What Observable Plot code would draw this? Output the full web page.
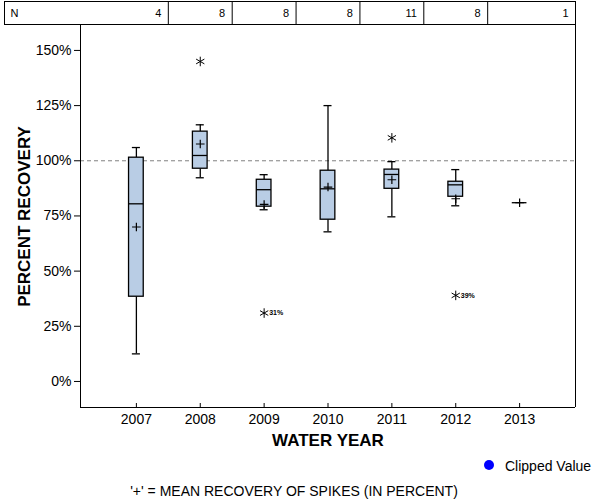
<!DOCTYPE html>
<html>
<head>
<meta charset="utf-8">
<script src="https://cdn.jsdelivr.net/npm/d3@7"></script>
<script src="https://cdn.jsdelivr.net/npm/@observablehq/plot@0.6"></script>
<style>
  html, body { margin: 0; padding: 0; background: #fff; }
  #page { position: relative; width: 600px; height: 500px; overflow: hidden;
          font-family: "Liberation Sans", Arial, Helvetica, sans-serif; color: #000; background: #fff; }
  #page svg { position: absolute; left: 0; display: block; }
  .legend-dot { position: absolute; left: 484px; top: 460px; width: 10px; height: 10px;
                border-radius: 50%; background: #0000ff; }
  .legend-text { position: absolute; left: 505px; top: 458px; font-size: 14px; line-height: 16px; white-space: nowrap; }
  .footnote { position: absolute; left: 0; top: 483px; width: 588px; text-align: center;
              font-size: 14px; line-height: 16px; white-space: nowrap; }
</style>
</head>
<body>
<div id="page"></div>
<script>
// ---- data ----
const years        = [2007, 2008, 2009, 2010, 2011, 2012, 2013];
const counts       = [4, 8, 8, 8, 11, 8, 1];
const whiskerLow   = [12.5, 92.3, 77.8, 67.8, 74.6, 79.6, 81];
const q1s          = [38.4, 96.4, 79.2, 73.3, 87.3, 83.7, 81];
const medians      = [80.5, 102.4, 86.9, 87.3, 93.8, 89.1, 81];
const q3s          = [101.4, 113.2, 91.4, 95.5, 96.0, 90.5, 81];
const whiskerHigh  = [106, 116.3, 93.7, 125, 99.6, 96, 81];
const means        = [70, 107.6, 80.2, 88.1, 91.4, 82.8, 81];
const outlierYears  = [2008, 2009, 2011, 2012];
const outlierValues = [145, 31, 110.4, 39];
const outlierLabels = ["", "31%", "", "39%"];
const yTicks = [0, 25, 50, 75, 100, 125, 150];

// ---- layout / style constants ----
const FONT = '"Liberation Sans", Arial, Helvetica, sans-serif';
const BOX_FILL = "#b9cde5";
const xDomain = [2006.125, 2013.875];
const yDomain = [-11.8, 161.3];
const boxHalf = 0.115;
const capHalf = 0.063;

const rows = years.map((year, i) => ({
  year, n: counts[i], lo: whiskerLow[i], q1: q1s[i], med: medians[i],
  q3: q3s[i], hi: whiskerHigh[i], mean: means[i]
}));
const boxRows = rows.filter(d => d.q3 > d.q1);
const outRows = outlierYears.map((year, i) => ({ year, v: outlierValues[i], label: outlierLabels[i] }));

const page = document.getElementById("page");

// ---- N table above plot ----
const table = Plot.plot({
  width: 600, height: 25,
  marginTop: 1, marginBottom: 1, marginLeft: 80, marginRight: 25,
  style: { fontFamily: FONT, fontSize: "11px", background: "white", color: "black" },
  x: { domain: xDomain, axis: null },
  y: { domain: [0, 1], axis: null },
  marks: [
    Plot.frame({ insetLeft: -76, stroke: "black" }),
    Plot.ruleX(years.slice(1), { x: d => d - 0.5, stroke: "black" }),
    Plot.text(rows, {
      x: (d, i) => (i === rows.length - 1 ? xDomain[1] : d.year + 0.5),
      text: d => String(d.n), frameAnchor: "middle", dx: -7, textAnchor: "end", fontSize: 11
    }),
    Plot.text(["N"], { text: d => d, frameAnchor: "left", dx: -70, textAnchor: "start", fontSize: 11 })
  ]
});
table.style.top = "0px";
page.appendChild(table);

// ---- main box plot ----
const chart = Plot.plot({
  width: 600, height: 425,
  marginTop: 0, marginBottom: 43, marginLeft: 80, marginRight: 25,
  style: { fontFamily: FONT, fontSize: "14px", background: "white", color: "black" },
  x: { domain: xDomain, ticks: years, tickFormat: d => String(d), tickSize: 0, tickPadding: 7, label: null },
  y: { domain: yDomain, ticks: yTicks, tickFormat: d => d + "%", tickSize: 6, tickPadding: 3, label: null },
  marks: [
    Plot.ruleY([100], { stroke: "#808080", strokeDasharray: "4,3" }),
    Plot.ruleX(boxRows, { x: "year", y1: "lo", y2: "q1", stroke: "black", strokeWidth: 1.3 }),
    Plot.ruleX(boxRows, { x: "year", y1: "q3", y2: "hi", stroke: "black", strokeWidth: 1.3 }),
    Plot.ruleY(boxRows, { y: "lo", x1: d => d.year - capHalf, x2: d => d.year + capHalf, stroke: "black", strokeWidth: 1.3 }),
    Plot.ruleY(boxRows, { y: "hi", x1: d => d.year - capHalf, x2: d => d.year + capHalf, stroke: "black", strokeWidth: 1.3 }),
    Plot.rect(boxRows, { x1: d => d.year - boxHalf, x2: d => d.year + boxHalf, y1: "q1", y2: "q3",
                          fill: BOX_FILL, stroke: "black", strokeWidth: 1.3 }),
    Plot.ruleY(rows, { y: "med", x1: d => d.year - boxHalf, x2: d => d.year + boxHalf, stroke: "black", strokeWidth: 1.3 }),
    Plot.dot(rows, { x: "year", y: "mean", symbol: "plus", r: 2.9, stroke: "black", strokeWidth: 1.2 }),
    Plot.dot(outRows, { x: "year", y: "v", symbol: "asterisk", r: 4.5, stroke: "black", strokeWidth: 1 }),
    Plot.text(outRows, { x: "year", y: "v", text: "label", dx: 5, textAnchor: "start", fontSize: 7, fontWeight: "bold" }),
    Plot.ruleX(years, { x: d => d, insetTop: 378, stroke: "black" }),
    Plot.ruleX(xDomain, { x: d => d, stroke: "black" }),
    Plot.ruleY([yDomain[0]], { y: d => d, stroke: "black" }),
    Plot.text(["WATER YEAR"], { text: d => d, frameAnchor: "bottom", dy: 38, textAnchor: "middle", fontSize: 17, fontWeight: "bold" }),
    Plot.text(["PERCENT RECOVERY"], { text: d => d, frameAnchor: "left", dx: -56, rotate: -90, textAnchor: "middle", fontSize: 17, fontWeight: "bold" })
  ]
});
chart.style.top = "25px";
page.appendChild(chart);

// ---- legend and footnote below ----
const dot = document.createElement("div");
dot.className = "legend-dot";
page.appendChild(dot);
const lt = document.createElement("div");
lt.className = "legend-text";
lt.textContent = "Clipped Value";
page.appendChild(lt);
const fn = document.createElement("div");
fn.className = "footnote";
fn.textContent = "'+' = MEAN RECOVERY OF SPIKES (IN PERCENT)";
page.appendChild(fn);
</script>
</body>
</html>
